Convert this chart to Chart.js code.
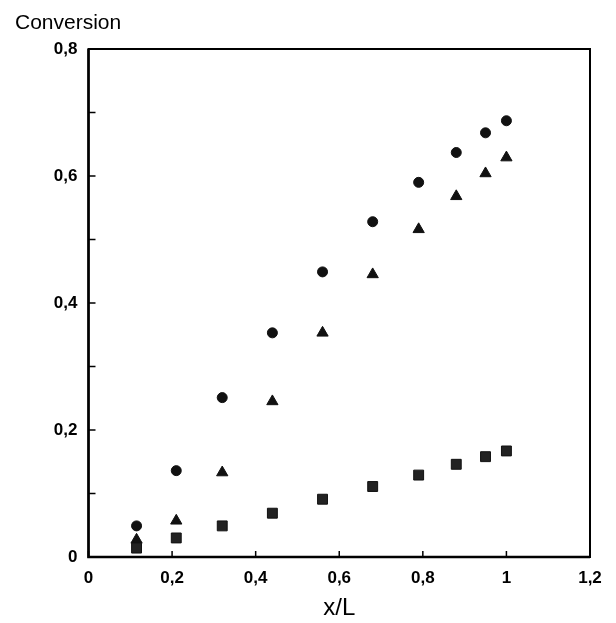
<!DOCTYPE html>
<html>
<head>
<meta charset="utf-8">
<script src="https://cdn.jsdelivr.net/npm/chart.js@4/dist/chart.umd.min.js"></script>
<style>
  html, body { margin: 0; padding: 0; background: #fff; }
  #wrap { width: 616px; height: 623px; }
</style>
</head>
<body>
<div id="wrap"><canvas id="myChart" width="616" height="623"></canvas></div>
<script>
const positions = [0.115, 0.21, 0.32, 0.44, 0.56, 0.68, 0.79, 0.88, 0.95, 1.0];
const circleValues = [0.049, 0.136, 0.251, 0.353, 0.449, 0.528, 0.590, 0.637, 0.668, 0.687];
const triangleValues = [0.027, 0.057, 0.133, 0.245, 0.353, 0.445, 0.516, 0.568, 0.604, 0.629];
const squareValues = [0.014, 0.030, 0.049, 0.069, 0.091, 0.111, 0.129, 0.146, 0.158, 0.167];
const xTicks = [0, 0.2, 0.4, 0.6, 0.8, 1, 1.2];
const yTicks = [0, 0.2, 0.4, 0.6, 0.8];

const fmt = (v) => String(Number(v.toFixed(1))).replace('.', ',');
const toPoints = (vals) => vals.map((v, i) => ({ x: positions[i], y: v }));

// frame + inward ticks + y title
const framePlugin = {
  id: 'frame',
  afterDraw(chart) {
    const { ctx, chartArea: a, scales } = chart;
    ctx.save();
    ctx.strokeStyle = '#000';
    ctx.lineWidth = 2;
    ctx.strokeRect(a.left, a.top, a.right - a.left, a.bottom - a.top);
    ctx.lineWidth = 2.5;
    ctx.beginPath();
    ctx.moveTo(a.left, a.top);
    ctx.lineTo(a.left, a.bottom);
    ctx.lineTo(a.right, a.bottom);
    ctx.stroke();
    ctx.lineWidth = 1.5;
    ctx.beginPath();
    scales.x.ticks.forEach((t) => {
      const px = scales.x.getPixelForValue(t.value);
      ctx.moveTo(px, a.bottom);
      ctx.lineTo(px, a.bottom - 6);
    });
    scales.y.ticks.forEach((t) => {
      const py = scales.y.getPixelForValue(t.value);
      ctx.moveTo(a.left, py);
      ctx.lineTo(a.left + 7, py);
    });
    ctx.stroke();
    ctx.fillStyle = '#000';
    ctx.font = '21px "Liberation Sans", Arial, sans-serif';
    ctx.textBaseline = 'middle';
    ctx.textAlign = 'left';
    ctx.fillText('Conversion', 15, 23);
    ctx.restore();
  }
};

const data = {
  datasets: [
    {
      label: 'circles',
      data: toPoints(circleValues),
      pointStyle: 'circle',
      pointRadius: 5,
      backgroundColor: '#111',
      borderColor: '#111',
    },
    {
      label: 'triangles',
      data: toPoints(triangleValues),
      pointStyle: 'triangle',
      pointRadius: 6.5,
      backgroundColor: '#111',
      borderColor: '#111',
    },
    {
      label: 'squares',
      data: toPoints(squareValues),
      pointStyle: 'rect',
      pointRadius: 7,
      backgroundColor: '#222',
      borderColor: '#111',
    },
  ]
};

const config = {
  type: 'scatter',
  data: data,
  options: {
    responsive: false,
    animation: false,
    layout: { padding: { left: 0, right: 26, top: 49, bottom: 0 } },
    plugins: { legend: { display: false }, tooltip: { enabled: false } },
    scales: {
      x: {
        type: 'linear',
        min: 0,
        max: 1.2,
        afterBuildTicks: (s) => { s.ticks = xTicks.map((v) => ({ value: v })); },
        afterFit: (s) => { s.height = 66; },
        grid: { display: false, drawTicks: false },
        border: { display: false },
        ticks: {
          padding: 11,
          color: '#000',
          font: { family: '"Liberation Sans", Arial, sans-serif', size: 17, weight: 'bold' },
          callback: (v) => fmt(v),
        },
        title: {
          display: true,
          text: 'x/L',
          color: '#000',
          font: { family: '"Liberation Sans", Arial, sans-serif', size: 24 },
          padding: { top: 0, bottom: 0 },
        },
      },
      y: {
        type: 'linear',
        min: 0,
        max: 0.8,
        afterBuildTicks: (s) => {
          const t = [];
          for (let i = 0; i <= 8; i++) t.push({ value: i / 10 });
          s.ticks = t;
        },
        afterFit: (s) => { s.width = 88.5; },
        grid: { display: false, drawTicks: false },
        border: { display: false },
        ticks: {
          padding: 11,
          color: '#000',
          font: { family: '"Liberation Sans", Arial, sans-serif', size: 17, weight: 'bold' },
          callback: (v) => (yTicks.some((t) => Math.abs(t - v) < 1e-6) ? fmt(v) : ''),
        },
      },
    },
  },
  plugins: [framePlugin],
};

const myChart = new Chart(document.getElementById('myChart'), config);
</script>
</body>
</html>
